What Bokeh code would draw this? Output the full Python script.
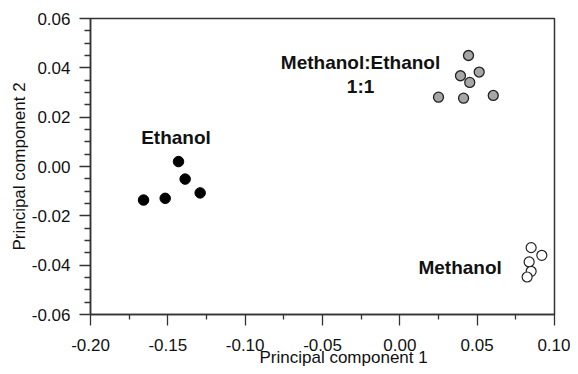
from bokeh.plotting import figure
from bokeh.models import Range1d, FixedTicker, NumeralTickFormatter, Label, Title
from bokeh.embed import file_html
from bokeh.resources import INLINE

# Data
ethanol_x = [-0.1657, -0.1517, -0.1431, -0.1388, -0.1291]
ethanol_y = [-0.0136, -0.0129, 0.0020, -0.0051, -0.0107]

mix_x = [0.0444, 0.0392, 0.0513, 0.0452, 0.0250, 0.0412, 0.0604]
mix_y = [0.0450, 0.0368, 0.0383, 0.0341, 0.0281, 0.0277, 0.0288]

methanol_x = [0.0849, 0.0918, 0.0836, 0.0849, 0.0823]
methanol_y = [-0.0329, -0.0360, -0.0387, -0.0425, -0.0448]

x_ticks = [-0.20, -0.15, -0.10, -0.05, 0.00, 0.05, 0.10]
x_minor = [-0.175, -0.125, -0.075, -0.025, 0.025, 0.075]
y_ticks = [-0.06, -0.04, -0.02, 0.00, 0.02, 0.04, 0.06]
y_minor = [v / 1000 for v in range(-55, 60, 5) if v % 20 != 0]

FONT = "Liberation Sans"

p = figure(width=570, height=366, output_backend="svg", toolbar_location=None,
           x_range=Range1d(-0.2, 0.1), y_range=Range1d(-0.06, 0.06),
           min_border_left=90, min_border_right=16, min_border_top=18,
           min_border_bottom=52)
p.background_fill_color = "white"
p.border_fill_color = "white"
p.outline_line_color = "#333333"
p.outline_line_width = 1.5
p.xgrid.visible = False
p.ygrid.visible = False

for ax in (p.xaxis[0], p.yaxis[0]):
    ax.axis_line_color = "#333333"
    ax.axis_line_width = 1.5
    ax.major_tick_line_color = "#333333"
    ax.minor_tick_line_color = "#333333"
    ax.major_tick_line_width = 1.3
    ax.minor_tick_line_width = 1.3
    ax.major_tick_in = 0
    ax.minor_tick_in = 0
    ax.major_label_text_font = FONT
    ax.major_label_text_font_size = "17px"
    ax.major_label_text_color = "#111111"
    ax.formatter = NumeralTickFormatter(format="0.00")

p.xaxis.ticker = FixedTicker(ticks=x_ticks, minor_ticks=x_minor)
p.yaxis.ticker = FixedTicker(ticks=y_ticks, minor_ticks=y_minor)
p.xaxis.major_tick_out = 11
p.xaxis.minor_tick_out = 5
p.yaxis.major_tick_out = 11
p.yaxis.minor_tick_out = 6
p.xaxis.major_label_standoff = 13
p.yaxis.major_label_standoff = 9

p.yaxis.axis_label = "Principal component 2"
p.yaxis.axis_label_text_font = FONT
p.yaxis.axis_label_text_font_size = "17px"
p.yaxis.axis_label_text_font_style = "normal"
p.yaxis.axis_label_text_color = "#111111"
p.yaxis.axis_label_standoff = 0

xtitle = Title(text="Principal component 1", align="left", offset=169,
               vertical_align="top",
               text_font=FONT, text_font_size="17px", text_font_style="normal",
               text_color="#111111", standoff=-12)
p.add_layout(xtitle, "below")

p.scatter(ethanol_x, ethanol_y, size=10.5, fill_color="black", line_color="black",
          line_width=1)
p.scatter(mix_x, mix_y, size=10, fill_color="#a6a6a6", line_color="#222222",
          line_width=1.3)
p.scatter(methanol_x, methanol_y, size=10, fill_color="white", line_color="#222222",
          line_width=1.2)

def lab(x, y, t):
    p.add_layout(Label(x=x, y=y, text=t, text_align="center",
                       text_baseline="alphabetic", text_font=FONT,
                       text_font_size="19px", text_font_style="bold",
                       text_color="#111111"))

lab(-0.1447, 0.0117, "Ethanol")
lab(-0.0254, 0.0420, "Methanol:Ethanol")
lab(-0.0254, 0.0325, "1:1")
lab(0.0390, -0.0410, "Methanol")

open("out.html", "w").write(file_html(p, INLINE))
